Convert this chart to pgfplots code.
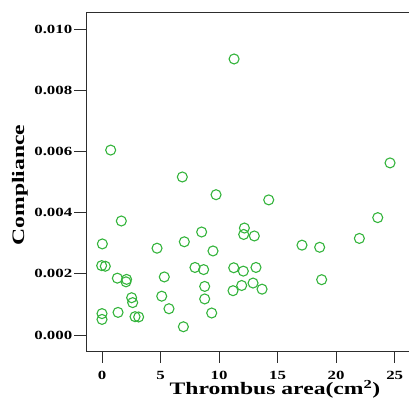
\documentclass[border=0pt]{standalone}
\usepackage{fontspec}
\setmainfont{Liberation Serif}[FakeStretch=1.35]
\usepackage{pgfplots}
\pgfplotsset{compat=1.18}
\definecolor{ptgreen}{RGB}{52,180,60}
\definecolor{axgray}{RGB}{45,45,45}

\begin{document}
\begin{tikzpicture}
\begin{axis}[
  name=ax,
  scale only axis,
  width=323bp, height=339bp,
  xmin=-1.367, xmax=26.22,
  ymin=-0.000523, ymax=0.010567,
  xtick={0,5,10,15,20,25},
  ytick={0,0.002,0.004,0.006,0.008,0.010},
  xtick pos=bottom, ytick pos=left,
  scaled ticks=false,
  /pgf/number format/assume math mode=true,
  yticklabel style={/pgf/number format/fixed, /pgf/number format/fixed zerofill, /pgf/number format/precision=3, xshift=-2bp},
  tick label style={font=\fontsize{12.5bp}{14bp}\selectfont\bfseries, inner sep=0pt},
  xticklabel style={yshift=-8.5bp},
  tick align=outside,
  major tick length=11.5bp,
  tick style={draw=axgray, line width=0.9bp},
  axis line style={draw=axgray, line width=0.9bp},
  xlabel={Thrombus area(cm\textsuperscript{2})},
  ylabel={Compliance},
  label style={font=\fontsize{17.5bp}{20bp}\selectfont\bfseries, inner sep=0pt},
  xlabel style={at={(rel axis cs:0.585,0)}, anchor=north, yshift=-29bp},
  ylabel style={at={(rel axis cs:0,0.49)}, anchor=south, yshift=58bp},
  clip=false,
]
\addplot[only marks, mark=o, mark size=5bp, ptgreen, mark options={line width=1.1bp}]
coordinates {
(11.28,0.00903) (0.74,0.00605) (24.60,0.00563) (6.86,0.00517)
(9.74,0.00459) (14.24,0.00442) (23.55,0.00384) (1.65,0.00373)
(8.51,0.00337) (12.16,0.00350) (12.10,0.00329) (13.01,0.00324)
(21.98,0.00316) (0.03,0.00298) (7.03,0.00305) (17.08,0.00294)
(18.59,0.00287) (4.70,0.00284) (9.48,0.00275) (-0.03,0.00227)
(0.28,0.00225) (7.94,0.00221) (8.68,0.00214) (11.25,0.00220)
(12.07,0.00209) (13.15,0.00221) (1.31,0.00186) (2.10,0.00182)
(2.05,0.00174) (5.32,0.00190) (18.76,0.00181) (8.77,0.00159)
(11.19,0.00145) (11.93,0.00162) (12.90,0.00170) (13.67,0.00150)
(2.53,0.00122) (2.62,0.00106) (5.10,0.00127) (8.77,0.00118)
(5.72,0.00086) (0.00,0.00070) (0.00,0.00051) (1.37,0.00074)
(2.82,0.00060) (3.13,0.00059) (9.37,0.00072) (6.95,0.00027)
};
\end{axis}
\pgfresetboundingbox
\path ([shift={(-86bp,-59bp)}]ax.south west) rectangle ([shift={(0bp,12bp)}]ax.north east);
\end{tikzpicture}
\end{document}
